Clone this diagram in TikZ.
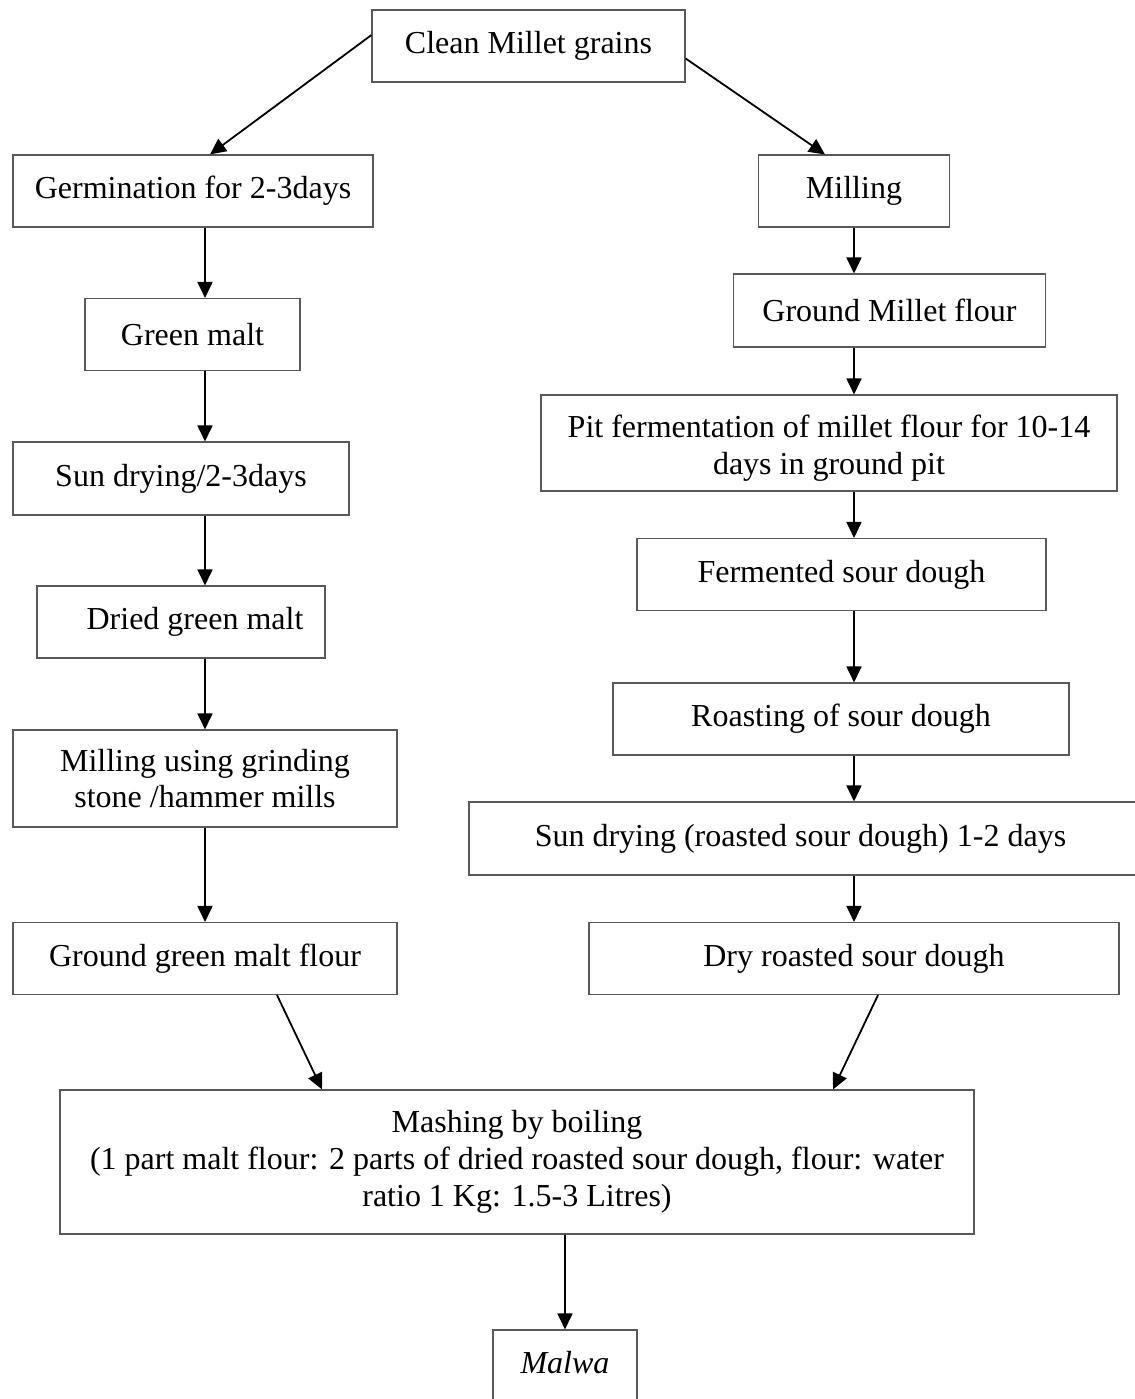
\documentclass[tikz,border=0pt]{standalone}
\usepackage{fontspec}
\setmainfont{Liberation Serif}
\usetikzlibrary{arrows.meta,calc}
\begin{document}
\begin{tikzpicture}[x=0.5pt,y=-0.5pt,
  font=\fontsize{16}{18.4}\selectfont,
  box/.style={draw=black!65, line width=0.55pt, inner sep=2pt, align=center},
  arr/.style={line width=0.9pt, -{Triangle[length=8pt,width=7.5pt]}}]
\useasboundingbox (0,0) rectangle (1135,1399);
% column lines
\coordinate (colL) at (205,0);
\coordinate (colR) at (854,0);
% boxes
\node[box, minimum width=156.5pt, minimum height=36pt] (clean) at (528.5,46) {Clean Millet grains};
\node[box, minimum width=180pt, minimum height=36pt] (germ) at (193,191) {Germination for 2-3days};
\node[box, minimum width=95.5pt, minimum height=36pt] (mill) at (854,191) {Milling};
\node[box, minimum width=107.5pt, minimum height=36pt] (green) at (192.5,334.5) {Green malt};
\node[box, minimum width=156pt, minimum height=36.5pt] (gmf) at (889.5,310.5) {Ground Millet flour};
\node[box, minimum width=168pt, minimum height=36.5pt] (sun1) at (181,478.5) {Sun drying/2-3days};
\node[box, minimum width=288pt, minimum height=48pt,
  label={[align=center,yshift=-2.5pt]center:Pit fermentation of millet flour for 10-14\\days in ground pit}] (pit) at (829,443) {};
\node[box, minimum width=204.5pt, minimum height=36pt] (ferm) at (841.5,574.5) {Fermented sour dough};
\node[box, minimum width=144pt, minimum height=36pt] (dried) at (181,622) {\hspace*{14pt}Dried green malt};
\node[box, minimum width=228pt, minimum height=36pt] (roast) at (841,719) {Roasting of sour dough};
\node[box, minimum width=192pt, minimum height=48.5pt] (mill2) at (205,778.5) {Milling using grinding\\stone /hammer mills};
\node[box, minimum width=335.5pt, minimum height=36.5pt] (sun2) at (804.5,838.5) {\hspace*{-4pt}Sun drying (roasted sour dough) 1-2 days};
\node[box, minimum width=192pt, minimum height=36pt] (ggmf) at (205,958.5) {Ground green malt flour};
\node[box, minimum width=265pt, minimum height=36pt] (drs) at (854,958.5) {Dry roasted sour dough};
\node[box, minimum width=457pt, minimum height=72pt] (mash) at (517,1162) {Mashing by boiling\\(1 part malt flour: 2 parts of dried roasted sour dough, flour: water\\ratio 1 Kg: 1.5-3 Litres)};
\node[box, minimum width=72pt, minimum height=40pt, label={[yshift=3.5pt]center:\textit{Malwa}}] (malwa) at (565,1370) {};
% connectors
\draw[arr] ($(clean.north west)!0.35!(clean.south west)$) -- ($(germ.north)+(17,0)$);
\draw[arr] ($(clean.north east)!0.67!(clean.south east)$) -- ($(mill.north)+(-29,0)$);
\draw[arr] (germ.south -| colL) -- (green.north -| colL);
\draw[arr] (green.south -| colL) -- (sun1.north -| colL);
\draw[arr] (sun1.south -| colL) -- (dried.north -| colL);
\draw[arr] (dried.south -| colL) -- (mill2.north -| colL);
\draw[arr] (mill2.south -| colL) -- (ggmf.north -| colL);
\draw[arr] (mill.south -| colR) -- (gmf.north -| colR);
\draw[arr] (gmf.south -| colR) -- (pit.north -| colR);
\draw[arr] (pit.south -| colR) -- (ferm.north -| colR);
\draw[arr] (ferm.south -| colR) -- (roast.north -| colR);
\draw[arr] (roast.south -| colR) -- (sun2.north -| colR);
\draw[arr] (sun2.south -| colR) -- (drs.north -| colR);
\draw[arr] ($(ggmf.south)+(72,0)$) -- ($(mash.north)+(-195,0)$);
\draw[arr] ($(drs.south)+(24,0)$) -- ($(mash.north)+(316,0)$);
\draw[arr] (mash.south -| malwa.north) -- (malwa.north);
\end{tikzpicture}
\end{document}
